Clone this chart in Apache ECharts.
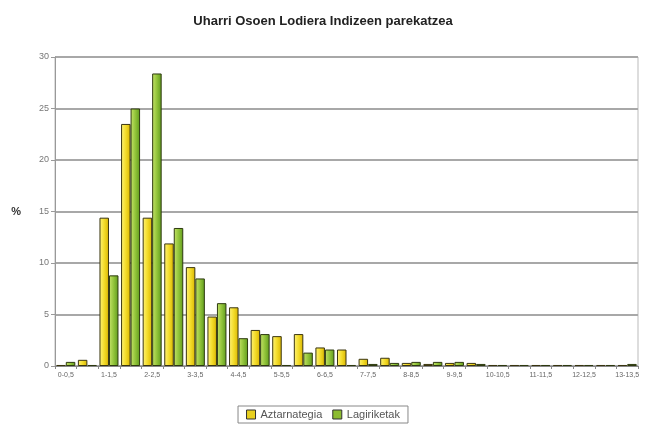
<!DOCTYPE html>
<html>
<head>
<meta charset="utf-8">
<script src="https://cdn.jsdelivr.net/npm/echarts@6/dist/echarts.min.js"></script>
<style>
  html, body { margin: 0; padding: 0; background: #fff; }
  #chart { width: 646px; height: 428px; }
</style>
</head>
<body>
<div id="chart"></div>
<script>
const categories = [
  '0-0,5', '0,5-1', '1-1,5', '1,5-2', '2-2,5', '2,5-3', '3-3,5', '3,5-4', '4-4,5',
  '4,5-5', '5-5,5', '5,5-6', '6-6,5', '6,5-7', '7-7,5', '7,5-8', '8-8,5', '8,5-9',
  '9-9,5', '9,5-10', '10-10,5', '10,5-11', '11-11,5', '11,5-12', '12-12,5', '12,5-13', '13-13,5'
]
const aztarnategia = [
  0.1, 0.6, 14.4, 23.5, 14.4, 11.9, 9.6, 4.8, 5.7,
  3.5, 2.9, 3.1, 1.8, 1.6, 0.7, 0.8, 0.3, 0.2,
  0.3, 0.3, 0.1, 0.1, 0.1, 0.1, 0.1, 0.1, 0.1
]
const lagiriketak = [
  0.4, 0.1, 8.8, 25.0, 28.4, 13.4, 8.5, 6.1, 2.7,
  3.1, 0.1, 1.3, 1.6, 0.1, 0.2, 0.3, 0.4, 0.4,
  0.4, 0.2, 0.1, 0.1, 0.1, 0.1, 0.1, 0.1, 0.2
]

const chart = echarts.init(document.getElementById('chart'))

const yellow = new echarts.graphic.LinearGradient(0, 0, 1, 0, [
  { offset: 0, color: '#fff37a' },
  { offset: 0.5, color: '#f3dc2a' },
  { offset: 1, color: '#d9b400' }
])
const green = new echarts.graphic.LinearGradient(0, 0, 1, 0, [
  { offset: 0, color: '#c6e46a' },
  { offset: 0.5, color: '#92c43a' },
  { offset: 1, color: '#5e9a1c' }
])

const option = {
  animation: false,
  backgroundColor: '#fff',
  textStyle: { fontFamily: 'Liberation Sans, Arial, sans-serif' },
  title: {
    text: 'Uharri Osoen Lodiera Indizeen parekatzea',
    left: 'center',
    top: 10,
    textStyle: { fontSize: 13, fontWeight: 'bold', color: '#222' }
  },
  legend: {
    bottom: 5,
    left: 'center',
    icon: 'rect',
    itemWidth: 9,
    itemHeight: 9,
    itemGap: 10,
    padding: [3, 8],
    borderColor: '#888',
    borderWidth: 1,
    textStyle: { fontSize: 11, color: '#555' },
    data: [
      { name: 'Aztarnategia', itemStyle: { color: '#e8d020', borderColor: '#333', borderWidth: 1 } },
      { name: 'Lagiriketak', itemStyle: { color: '#8cbc30', borderColor: '#333', borderWidth: 1 } }
    ]
  },
  grid: {
    left: 55,
    right: 8,
    top: 57,
    bottom: 62
  },
  xAxis: {
    type: 'category',
    data: categories,
    axisLine: { lineStyle: { color: '#888', width: 1 } },
    axisTick: { show: true, alignWithLabel: false, interval: 0, length: 3, lineStyle: { color: '#888' } },
    axisLabel: { interval: 1, fontSize: 7, color: '#666', margin: 6 }
  },
  yAxis: {
    type: 'value',
    min: 0,
    max: 30,
    interval: 5,
    name: '%',
    nameLocation: 'middle',
    nameRotate: 0,
    nameGap: 34,
    nameTextStyle: { fontSize: 11, fontWeight: 'bold', color: '#333' },
    axisLine: { show: true, lineStyle: { color: '#999', width: 1 } },
    axisTick: { show: true, length: 4, lineStyle: { color: '#999' } },
    axisLabel: { fontSize: 9, color: '#777', margin: 6 },
    splitLine: { lineStyle: { color: '#a8a8a8', width: 2 } }
  },
  series: [
    {
      name: 'Aztarnategia',
      type: 'bar',
      data: aztarnategia,
      barGap: '0%',
      barCategoryGap: '12%',
      itemStyle: { color: yellow, borderColor: '#3a3510', borderWidth: 1 }
    },
    {
      name: 'Lagiriketak',
      type: 'bar',
      data: lagiriketak,
      itemStyle: { color: green, borderColor: '#2e3a10', borderWidth: 1 }
    }
  ],
  graphic: [
    {
      type: 'rect',
      shape: { x: 55, y: 57, width: 583, height: 309 },
      style: { fill: 'none', stroke: '#bbb', lineWidth: 1 },
      silent: true,
      z: -1
    }
  ]
}

chart.setOption(option)
window.addEventListener('resize', () => chart.resize())
</script>
</body>
</html>
